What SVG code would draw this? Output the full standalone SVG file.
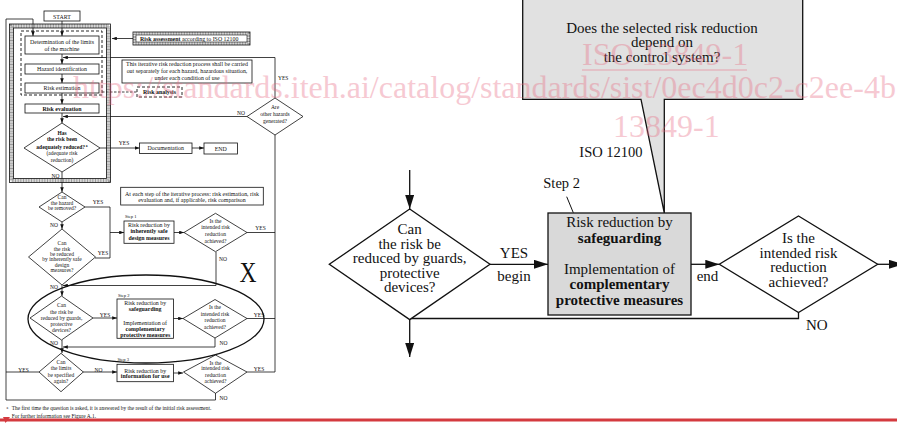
<svg xmlns="http://www.w3.org/2000/svg" width="897" height="423" viewBox="0 0 897 423">
<defs>
<marker id="a" viewBox="0 0 8 6" markerWidth="5" markerHeight="3.6" refX="8" refY="3" orient="auto" markerUnits="userSpaceOnUse"><path d="M0,0L8,3L0,6z" fill="#111"/></marker>
<marker id="A" viewBox="0 0 14 9" markerWidth="14" markerHeight="9" refX="14" refY="4.5" orient="auto" markerUnits="userSpaceOnUse"><path d="M0,0L14,4.5L0,9z" fill="#111"/></marker>
</defs>
<style>
text{font-family:"Liberation Serif","Times New Roman",serif;fill:#111}
.s{font-size:5.9px;text-anchor:middle}
.d{font-size:5.5px;text-anchor:middle}
.b{font-weight:bold}
.st{font-size:4.6px}
.L{font-size:15px;text-anchor:middle}
.box{fill:#fff;stroke:#111;stroke-width:0.8}
.dia{fill:#fff;stroke:#111;stroke-width:0.8}
.ln{fill:none;stroke:#111;stroke-width:0.8}
.la{fill:none;stroke:#111;stroke-width:0.8;marker-end:url(#a)}
.R{fill:none;stroke:#111;stroke-width:1.3}
.RA{fill:none;stroke:#111;stroke-width:1.3;marker-end:url(#A)}
.wm{font-size:32px;fill:#e8677f;opacity:.35}
</style>
<rect width="897" height="423" fill="#fff"/>

<!-- LEFT FLOWCHART connectors -->
<g id="left-connectors">
<path class="la" d="M62,21V36"/>
<path class="la" d="M215.5,393V400H6V19H33V36"/>
<path class="ln" d="M39,372H6"/>
<path class="la" d="M62,54V64"/>
<path class="la" d="M62,74V83"/>
<path class="la" d="M62,93V104"/>
<path class="la" d="M62,113V123"/>
<path class="la" d="M275,98V57.5H63"/>
<path class="la" d="M133,38.5H112"/>
<path class="ln" stroke-dasharray="2.5 1.5" d="M102,92H137"/>
<path class="la" d="M247,116.5H63"/>
<path class="la" d="M100,148H139.5"/>
<path class="la" d="M192,148H204"/>
<path class="la" d="M62,172V192"/>
<path class="ln" d="M85,207H110V258H95"/>
<path class="la" d="M110,232.5H124"/>
<path class="la" d="M62,222V229"/>
<path class="la" d="M62,285V296"/>
<path class="la" d="M174,232.5H184"/>
<path class="ln" d="M247,232.5H275"/>
<path class="la" d="M216,252V285.5H63"/>
<path class="ln" d="M275,135V372"/>
<path class="la" d="M93,318H117"/>
<path class="la" d="M173,318.5H183"/>
<path class="ln" d="M247,318.5H275"/>
<path class="la" d="M215,338V347H63"/>
<path class="la" d="M62,340V353"/>
<path class="la" d="M83,372H117"/>
<path class="la" d="M173,373H183"/>
<path class="ln" d="M247,372H275"/>
</g>

<!-- frame of risk assessment -->
<g id="ra-frame">
<rect x="11.5" y="26" width="97" height="154.5" fill="none" stroke="#9a9a9a" stroke-width="4" stroke-dasharray="1 0.6"/>
<rect x="9.5" y="24" width="101" height="158.5" fill="none" stroke="#111" stroke-width="0.8"/>
<rect x="13.5" y="28" width="93" height="150.5" fill="none" stroke="#111" stroke-width="0.8"/>
<rect x="21" y="31" width="81" height="64" fill="none" stroke="#111" stroke-width="0.9" stroke-dasharray="3 2"/>
</g>

<g id="start"><rect class="box" x="44" y="11" width="36" height="10"/><text class="s" x="62" y="18.5" font-size="6.5">START</text></g>
<g id="determination"><rect class="box" x="25" y="36" width="74" height="18"/><text class="s" x="62" y="44.2">Determination of the limits</text><text class="s" x="62" y="51">of the machine</text></g>
<g id="hazard-id"><rect class="box" x="25" y="64" width="74" height="10"/><text class="s" x="62" y="71.2">Hazard identification</text></g>
<g id="risk-estimation"><rect class="box" x="25" y="83" width="74" height="10"/><text class="s" x="62" y="90.2">Risk estimation</text></g>
<g id="risk-evaluation"><rect class="box" x="25" y="104" width="74" height="9"/><text class="s b" x="62" y="110.7">Risk evaluation</text></g>

<g id="risk-assessment">
<rect x="134.5" y="33.5" width="114" height="10" fill="#fff" stroke="#9a9a9a" stroke-width="3" stroke-dasharray="1 0.6"/>
<rect x="133" y="32" width="117" height="13" fill="none" stroke="#111" stroke-width="0.8"/>
<rect x="136" y="35" width="111" height="7" fill="#fff" stroke="#111" stroke-width="0.6"/>
<text x="140" y="40.6" font-size="5.9"><tspan font-weight="bold">Risk assessment</tspan> according to ISO 12100</text>
</g>
<g id="iterative-note"><rect class="box" x="122" y="60" width="130" height="23"/><text class="s" x="187" y="66" font-size="5.6">This iterative risk reduction process shall be carried</text><text class="s" x="187" y="72.8" font-size="5.6">out separately for each hazard, hazardous situation,</text><text class="s" x="187" y="79.6" font-size="5.6">under each condition of use</text></g>
<g id="risk-analysis"><rect x="137" y="87" width="45" height="10" fill="#fff" stroke="#111" stroke-width="0.9" stroke-dasharray="3 2"/><text class="s b" x="159.5" y="94">Risk analysis</text></g>

<g id="other-hazards"><polygon class="dia" points="275,98 303,116.5 275,135 247,116.5"/><text class="d" x="275" y="109">Are</text><text class="d" x="275" y="116">other hazards</text><text class="d" x="275" y="122.7">generated?</text></g>
<text class="d" x="241" y="114.5">NO</text>
<text x="278" y="80" font-size="5.5">YES</text>

<g id="adequately-reduced"><polygon class="dia" points="62,123 100,148 62,172 24,148"/>
<text class="d b" x="62" y="134.5">Has</text><text class="d b" x="62" y="141">the risk been</text><text class="d b" x="62" y="148.5">adequately reduced?<tspan font-size="3.6" dy="-1.5"> a</tspan></text><text class="d" x="62" y="155.2">(adequate risk</text><text class="d" x="62" y="162">reduction)</text></g>
<text class="d" x="124" y="145.3">YES</text>
<text class="d" x="55.5" y="178.2">NO</text>
<g id="documentation"><rect class="box" x="139.5" y="143" width="52.5" height="10.5"/><text class="s" x="165.7" y="150.3">Documentation</text></g>
<g id="end"><rect class="box" x="204" y="143" width="33.5" height="11"/><text class="s" x="220.7" y="150.7" font-size="6.5">END</text></g>

<g id="iteration-note"><rect class="box" x="120.7" y="187.3" width="142.6" height="17.7"/><text class="s" x="192" y="196" font-size="5.6">At each step of the iterative process: risk estimation, risk</text><text class="s" x="192" y="202" font-size="5.6">evaluation and, if applicable, risk comparison</text></g>

<g id="hazard-removed"><polygon class="dia" points="62,192 85,207 62,222 39,207"/><text class="d" x="62" y="198.6">Can</text><text class="d" x="62" y="204.5">the hazard</text><text class="d" x="62" y="210.3">be removed?</text></g>
<text class="d" x="98" y="203.5">YES</text>
<text class="d" x="54" y="227">NO</text>

<g id="inherent-q"><polygon class="dia" points="62,229 95.5,257 62,285 28.5,257"/><text class="d" x="62" y="245.2">Can</text><text class="d" x="62" y="251">the risk</text><text class="d" x="62" y="256.2">be reduced</text><text class="d" x="62" y="261">by inherently safe</text><text class="d" x="62" y="266.5">design</text><text class="d" x="62" y="272">measures?</text></g>
<text class="d" x="103" y="254.5">YES</text>
<text class="d" x="54" y="289.2">NO</text>

<g id="step1"><text class="st" x="125" y="217.5">Step 1</text><rect class="box" x="124" y="221" width="50" height="22.3"/><text class="s" x="149" y="227" font-size="5.6">Risk reduction by</text><text class="s b" x="149" y="233" font-size="5.6">inherently safe</text><text class="s b" x="149" y="239.5" font-size="5.6">design measures</text></g>
<g id="step1-check"><polygon class="dia" points="215.5,213.3 247,232.5 215.5,251.7 184,232.5"/><text class="d" x="215.5" y="222.6">Is the</text><text class="d" x="215.5" y="229.2">intended risk</text><text class="d" x="215.5" y="235.9">reduction</text><text class="d" x="215.5" y="242.6">achieved?</text></g>
<text class="d" x="260.5" y="230.2">YES</text>
<text class="d" x="223" y="261.2">NO</text>

<text x="248" y="281.7" font-size="30" text-anchor="middle" textLength="17" lengthAdjust="spacingAndGlyphs">X</text>

<g id="guards-q"><polygon class="dia" points="61.5,296 93,318 61.5,340 30,318"/><text class="d" x="61.5" y="307">Can</text><text class="d" x="61.5" y="313.6">the risk be</text><text class="d" x="61.5" y="320.2">reduced by guards,</text><text class="d" x="61.5" y="326">protective</text><text class="d" x="61.5" y="332">devices?</text></g>
<text class="d" x="105" y="317">YES</text>
<text class="d" x="54" y="344.5">NO</text>
<g id="step2"><text class="st" x="118" y="296.5">Step 2</text><rect class="box" x="117" y="299" width="56.5" height="39.3"/><text class="s" x="145.2" y="305.2" font-size="5.6">Risk reduction by</text><text class="s b" x="145.2" y="311.2" font-size="5.6">safeguarding</text><text class="s" x="145.2" y="325.2" font-size="5.6">Implementation of</text><text class="s b" x="145.2" y="331.2" font-size="5.6">complementary</text><text class="s b" x="145.2" y="337" font-size="5.6">protective measures</text></g>
<g id="step2-check"><polygon class="dia" points="215,299.5 247,318.5 215,338 183,318.5"/><text class="d" x="215" y="309.2">Is the</text><text class="d" x="215" y="315.7">intended risk</text><text class="d" x="215" y="322">reduction</text><text class="d" x="215" y="328.5">achieved?</text></g>
<text class="d" x="259" y="317">YES</text>
<text class="d" x="223.5" y="344.5">NO</text>

<g id="limits-q"><polygon class="dia" points="61,353.3 83.3,372 61,391.7 39,372"/><text class="d" x="61" y="363.6">Can</text><text class="d" x="61" y="370.2">the limits</text><text class="d" x="61" y="377">be specified</text><text class="d" x="61" y="382.6">again?</text></g>
<text class="d" x="23.5" y="372">YES</text>
<text class="d" x="98.5" y="372">NO</text>
<g id="step3"><text class="st" x="117.5" y="360.5">Step 3</text><rect class="box" x="117" y="364.3" width="56.5" height="17.4"/><text class="s" x="145.2" y="372.6" font-size="5.6">Risk reduction by</text><text class="s b" x="145.2" y="378.2" font-size="5.6">information for use</text></g>
<g id="step3-check"><polygon class="dia" points="215.5,355 247,372 215.5,393.3 183.5,372"/><text class="d" x="215.5" y="364.6">Is the</text><text class="d" x="215.5" y="370.3">intended risk</text><text class="d" x="215.5" y="377">reduction</text><text class="d" x="215.5" y="383">achieved?</text></g>
<text class="d" x="259" y="371">YES</text>
<text class="d" x="223.5" y="400">NO</text>

<ellipse id="highlight" cx="146" cy="319" rx="118" ry="44" fill="none" stroke="#111" stroke-width="1.3"/>

<g id="footnote"><text x="6.5" y="408.5" font-size="3.8">a</text><text x="11.7" y="410.2" font-size="5.4">The first time the question is asked, it is answered by the result of the initial risk assessment.</text><text x="11.7" y="417.5" font-size="5.4">For further information see Figure A.1.</text></g>

<!-- RIGHT: enlarged detail -->
<g id="right-connectors">
<path class="RA" d="M409.7,170V209"/>
<path class="RA" d="M490,264.3H548"/>
<path class="RA" d="M691,264.3H719.3"/>
<path class="RA" d="M877.7,264.3H903"/>
<path class="R" d="M798.5,312.6V318.5H409.7"/>
<path class="RA" d="M409.7,319.6V357"/>
<path fill="none" stroke="#111" stroke-width="1" d="M566.7,196.7L573.3,212.7"/>
</g>

<g id="callout">
<path d="M522.7,-2H802.7V99.3H664.3V213L641,99.3H522.7Z" fill="#e1e1e1" stroke="#111" stroke-width="1.3" stroke-linejoin="miter"/>
<text class="L" x="662" y="32.5">Does the selected risk reduction</text>
<text class="L" x="662" y="47">depend on</text>
<text class="L" x="662" y="61.5">the control system?</text>
</g>

<text x="579.3" y="157.3" font-size="14.5">ISO 12100</text>
<text x="543.3" y="188.3" font-size="14.5">Step 2</text>

<g id="guards-question"><polygon points="409.7,209 490,264.3 409.7,319.6 329.3,264.3" fill="#fff" stroke="#111" stroke-width="1.3"/>
<text class="L" x="409.7" y="234">Can</text><text class="L" x="409.7" y="248.5">the risk be</text><text class="L" x="409.7" y="263">reduced by guards,</text><text class="L" x="409.7" y="277.5">protective</text><text class="L" x="409.7" y="292">devices?</text></g>
<text class="L" x="514" y="258.3">YES</text>
<text class="L" x="514" y="281">begin</text>

<g id="safeguarding"><rect x="548" y="213" width="143" height="102" fill="#d9d9d9" stroke="#111" stroke-width="1.3"/>
<text class="L" x="619.5" y="227">Risk reduction by</text><text class="L b" x="619.5" y="242.5">safeguarding</text><text class="L" x="619.5" y="273.5">Implementation of</text><text class="L b" x="619.5" y="289">complementary</text><text class="L b" x="619.5" y="304.5">protective measures</text></g>
<text class="L" x="707.5" y="281">end</text>

<g id="achieved-question"><polygon points="798.5,216 877.7,264.3 798.5,312.6 719.3,264.3" fill="#fff" stroke="#111" stroke-width="1.3"/>
<text class="L" x="798.5" y="243">Is the</text><text class="L" x="798.5" y="257.5">intended risk</text><text class="L" x="798.5" y="272">reduction</text><text class="L" x="798.5" y="286.5">achieved?</text></g>
<text x="806" y="330" font-size="15">NO</text>

<!-- bottom rule -->
<line x1="0" y1="420" x2="897" y2="420" stroke="#d43a3f" stroke-width="3"/>
<polygon points="3,417 10,417 5.5,423" fill="#d43a3f"/>

<!-- watermark -->
<g id="watermark">
<text class="wm" x="73" y="98">https://standards.iteh.ai/catalog/standards/sist/0ec4d0c2-c2ee-4b</text>
<text class="wm" x="582" y="65">ISO 13849-1</text>
<line x1="582" y1="70" x2="747" y2="70" stroke="#e8677f" stroke-width="1.5" opacity=".35"/>
<text class="wm" x="613" y="137" font-size="30px">13849-1</text>
</g>
</svg>
